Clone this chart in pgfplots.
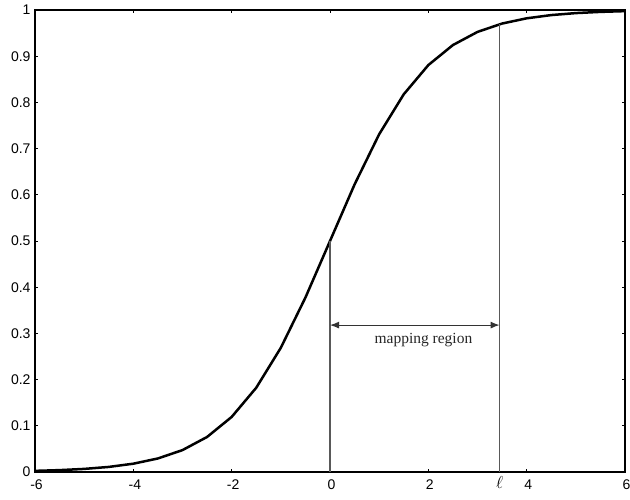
\documentclass[border=0pt]{standalone}
\usepackage{pgfplots}
\pgfplotsset{compat=1.18}
\usepackage{fontspec}
\setmainfont{Liberation Serif}
\newfontfamily\ticksans{Liberation Sans}
\usetikzlibrary{arrows.meta,calc}

% logistic function sampled every 0.5
\pgfplotstableread{
x y
-6.0 0.00247
-5.5 0.00407
-5.0 0.00669
-4.5 0.01099
-4.0 0.01799
-3.5 0.02931
-3.0 0.04743
-2.5 0.07586
-2.0 0.11920
-1.5 0.18243
-1.0 0.26894
-0.5 0.37754
0.0 0.50000
0.5 0.62246
1.0 0.73106
1.5 0.81757
2.0 0.88080
2.5 0.92414
3.0 0.95257
3.5 0.97069
4.0 0.98201
4.5 0.98901
5.0 0.99331
5.5 0.99593
6.0 0.99753
}\sigmoid

\begin{document}
\begin{tikzpicture}
\begin{axis}[
  scale only axis,
  width=590pt, height=462pt,
  xmin=-6, xmax=6, ymin=0, ymax=1,
  xtick={-6,-4,-2,0,2,4,6},
  ytick={0,0.1,...,1},
  extra x ticks={3.45},
  extra x tick labels={$\ell$},
  extra x tick style={major tick length=0pt, tick label style={font=\fontsize{16}{16}\selectfont, yshift=3pt, xshift=-1.5pt}},
  tick align=inside,
  major tick length=3pt,
  tick style={black, line width=0.8pt},
  axis line style={line width=1.3pt},
  tick label style={font=\ticksans\fontsize{14}{14}\selectfont},
  /pgf/number format/assume math mode=true,
  yticklabel style={/pgf/number format/fixed, xshift=-1pt},
  xticklabel style={yshift=-4pt, xshift=1.5pt},
  clip=false,
]
\addplot[black, line width=2.5pt] table[x=x,y=y] {\sigmoid};
% boundaries of the mapping region
\addplot[black!65, line width=1.4pt] coordinates {(0,0) (0,0.5)};
\addplot[black!65, line width=1.4pt] coordinates {(3.45,0) (3.45,0.9689)};
\addplot[black!80, line width=1.1pt, {Latex[length=9pt,width=7pt]}-{Latex[length=9pt,width=7pt]}] coordinates {(0,0.318) (3.45,0.318)};
\node[font=\fontsize{15.5}{15.5}\selectfont, text=black!85] at (axis cs:1.9,0.286) {mapping region};
\end{axis}
\pgfresetboundingbox
\path ($(current axis.south west)+(-35pt,-27pt)$) rectangle ($(current axis.north east)+(5pt,10pt)$);
\end{tikzpicture}
\end{document}
